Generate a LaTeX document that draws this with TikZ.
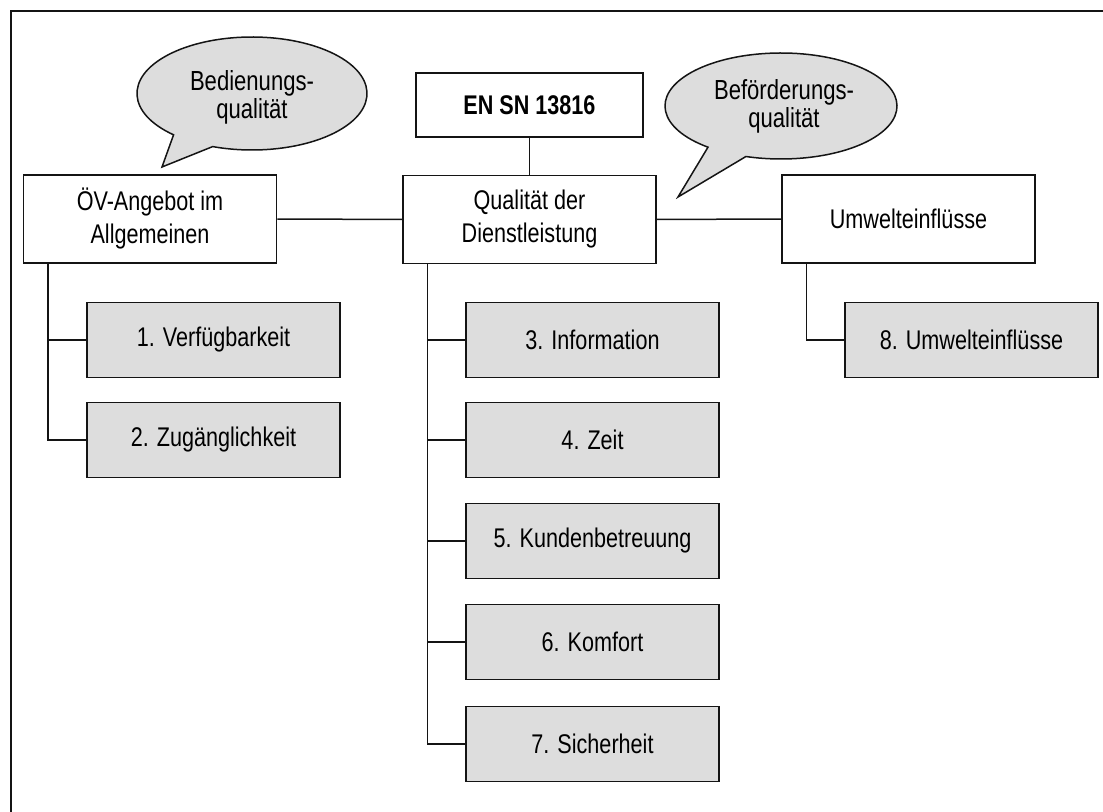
\documentclass[tikz,border=0pt]{standalone}
\usepackage{fontspec}
\setmainfont{Liberation Sans}[FakeStretch=0.8]
\usepackage{tikz}
\usetikzlibrary{calc}
\definecolor{ink}{RGB}{20,20,20}
\definecolor{shade}{RGB}{221,221,221}
\tikzset{
  link/.style={line width=0.75pt,ink},
  frameline/.style={line width=0.85pt,ink},
  areabox/.style={draw=ink,line width=0.75pt,fill=white,inner sep=0pt,
    minimum width=126.5pt,minimum height=44pt,align=center,
    font=\fontsize{13.5}{16.5}\selectfont},
  normbox/.style={draw=ink,line width=0.75pt,fill=white,inner sep=0pt,
    minimum width=113.5pt,minimum height=32pt,font=\fontsize{13.5}{15}\selectfont\bfseries},
  critbox/.style={draw=ink,line width=0.75pt,fill=shade,inner sep=0pt,
    minimum width=126.5pt,minimum height=37.5pt,font=\fontsize{13.5}{15}\selectfont},
  bubble/.style={draw=ink,line width=0.75pt,fill=shade},
  bubbletext/.style={align=center,inner sep=0pt,font=\fontsize{13.8}{14}\selectfont}
}

\begin{document}
\begin{tikzpicture}[x=0.5pt,y=-0.5pt]
  \useasboundingbox (0,0) rectangle (1103,812);
  \draw[frameline] (1103,11) -- (11,11) -- (11,812);

  % speech bubbles
  \coordinate (bedc) at (252,93.5);
  \coordinate (bedtip) at (162,167);
  \filldraw[bubble] (bedtip) -- ($(bedc)+(133:115 and 56.5)$)
    arc[start angle=133,end angle=470,x radius=115,y radius=56.5] -- cycle;
  \node[bubbletext] (bedtext) at (252,97) {Bedienungs-\\qualität};

  \coordinate (befc) at (781,106);
  \coordinate (beftip) at (678,197);
  \filldraw[bubble] (beftip) -- ($(befc)+(129:116 and 53)$)
    arc[start angle=129,end angle=467.6,x radius=116,y radius=53] -- cycle;
  \node[bubbletext] (beftext) at (784,106) {Beförderungs-\\qualität};

  % areas
  \node[normbox] (norm) at (529.5,105) {EN SN 13816};
  \node[areabox] (oev) at (150,219) {ÖV-Angebot im\\Allgemeinen};
  \node[areabox] (dienst) at (529.5,219.5) {Qualität der\\Dienstleistung};
  \node[areabox] (umwelt) at (908.5,219) {Umwelteinflüsse};

  % criteria
  \node[critbox] (c1) at (213.5,340) {1. Verfügbarkeit};
  \node[critbox] (c2) at (213.5,440) {2. Zugänglichkeit};
  \node[critbox] (c3) at (592.5,340) {3. Information};
  \node[critbox] (c4) at (592.5,440) {4. Zeit};
  \node[critbox] (c5) at (592.5,541) {5. Kundenbetreuung};
  \node[critbox] (c6) at (592.5,642) {6. Komfort};
  \node[critbox] (c7) at (592.5,744) {7. Sicherheit};
  \node[critbox] (c8) at (971.5,340) {8. Umwelteinflüsse};

  \draw[link] (norm) -- (dienst);
  \draw[link] (oev) -- (dienst);
  \draw[link] (dienst) -- (umwelt);
  \draw[link] ([xshift=12.5pt]oev.south west) |- (c2.west);
  \draw[link] ([xshift=12.5pt]oev.south west) |- (c1.west);
  \draw[link] ([xshift=12.5pt]dienst.south west) |- (c7.west);
  \foreach \c in {c3,c4,c5,c6}
    \draw[link] ([xshift=12.5pt]dienst.south west) |- (\c.west);
  \draw[link] ([xshift=12.5pt]umwelt.south west) |- (c8.west);
\end{tikzpicture}
\end{document}
